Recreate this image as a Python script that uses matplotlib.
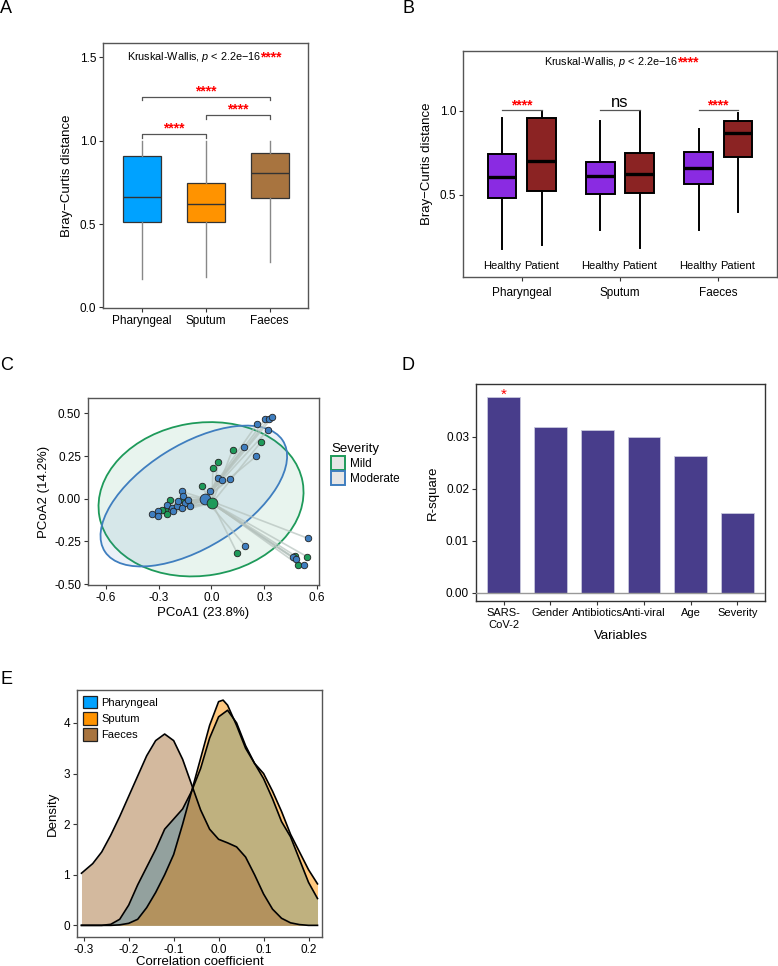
import matplotlib
matplotlib.use("Agg")
import matplotlib.pyplot as plt
from matplotlib.patches import Ellipse, Patch
import numpy as np

plt.rcParams['font.family'] = ['Liberation Sans', 'DejaVu Sans']
plt.rcParams['mathtext.fontset'] = 'custom'
plt.rcParams['mathtext.rm'] = 'Liberation Sans'
plt.rcParams['mathtext.it'] = 'Liberation Sans:italic'

# ---- data ----
sites = ["Pharyngeal", "Sputum", "Faeces"]
site_colors = ["#00A2FF", "#FF9300", "#A8743F"]

# panel A: Bray-Curtis by site
a_lo = [0.172, 0.182, 0.272]
a_q1 = [0.510, 0.510, 0.658]
a_med = [0.664, 0.618, 0.806]
a_q3 = [0.906, 0.746, 0.924]
a_hi = [0.995, 0.995, 0.995]

# panel B: healthy vs patient per site
b_groups = ["Healthy", "Patient"]
b_healthy_lo = [0.177, 0.288, 0.288]
b_healthy_q1 = [0.480, 0.506, 0.564]
b_healthy_med = [0.605, 0.613, 0.657]
b_healthy_q3 = [0.746, 0.696, 0.756]
b_healthy_hi = [0.958, 0.939, 0.895]
b_patient_lo = [0.200, 0.183, 0.399]
b_patient_q1 = [0.520, 0.510, 0.724]
b_patient_med = [0.700, 0.621, 0.869]
b_patient_q3 = [0.960, 0.748, 0.940]
b_patient_hi = [0.994, 0.994, 0.990]
b_sig = ["****", "ns", "****"]

# panel C: PCoA
mild_x = [0.280, 0.120, 0.038, 0.008, -0.056, 0.146, 0.542, 0.473, 0.492,
          -0.235, -0.263, -0.254, -0.160, -0.135, -0.282]
mild_y = [0.331, 0.288, 0.214, 0.183, 0.074, -0.318, -0.339, -0.333, -0.386,
          -0.006, -0.064, -0.088, -0.006, -0.025, -0.064]
mod_x = [0.259, 0.306, 0.325, 0.345, 0.319, 0.186, 0.253, 0.039, 0.060, 0.105,
         -0.006, 0.548, 0.191, 0.465, 0.480, 0.525, -0.338, -0.304, -0.304,
         -0.254, -0.225, -0.197, -0.188, -0.169, -0.163, -0.150, -0.135,
         -0.122, -0.169, -0.216]
mod_y = [0.438, 0.466, 0.468, 0.476, 0.400, 0.302, 0.248, 0.119, 0.109, 0.115,
         0.043, -0.232, -0.275, -0.343, -0.355, -0.390, -0.088, -0.074, -0.100,
         -0.035, -0.055, -0.045, -0.016, 0.043, 0.018, -0.025, -0.006,
         -0.045, -0.055, -0.074]
mild_centroid = (0.004, -0.025)
mod_centroid = (-0.038, 0.000)
# ellipse centre x, centre y, width, height, angle
mild_ell = (-0.059, -0.003, 1.17, 0.894, 10)
mod_ell = (-0.100, 0.016, 1.20, 0.600, 33)

# panel D: adonis R-square
variables = ["SARS-\nCoV-2", "Gender", "Antibiotics", "Anti-viral", "Age", "Severity"]
r_square = [0.0376, 0.0319, 0.0313, 0.0299, 0.0263, 0.0153]

# panel E: density of correlation coefficients
faeces_x = [-0.305, -0.28, -0.26, -0.24, -0.22, -0.20, -0.18, -0.16, -0.14, -0.12,
            -0.10, -0.08, -0.06, -0.04, -0.02, 0.0, 0.02, 0.04, 0.06, 0.08, 0.10,
            0.12, 0.14, 0.16, 0.18, 0.20, 0.22]
faeces_d = [1.03, 1.22, 1.45, 1.78, 2.15, 2.55, 2.95, 3.35, 3.65, 3.78,
            3.65, 3.28, 2.78, 2.28, 1.90, 1.70, 1.63, 1.55, 1.35, 1.00, 0.62,
            0.32, 0.14, 0.05, 0.015, 0.0, 0.0]
phar_x = [-0.305, -0.26, -0.24, -0.22, -0.20, -0.18, -0.16, -0.14, -0.12, -0.10,
          -0.08, -0.06, -0.04, -0.02, 0.0, 0.02, 0.04, 0.06, 0.08, 0.10, 0.12,
          0.14, 0.16, 0.18, 0.20, 0.22]
phar_d = [0.0, 0.0, 0.02, 0.12, 0.40, 0.80, 1.15, 1.50, 1.90, 2.10,
          2.30, 2.65, 3.10, 3.70, 4.12, 4.25, 4.00, 3.55, 3.20, 2.90, 2.50,
          2.05, 1.75, 1.30, 0.85, 0.53]
sput_x = [-0.305, -0.24, -0.22, -0.20, -0.18, -0.16, -0.14, -0.12, -0.10, -0.08,
          -0.06, -0.04, -0.02, 0.0, 0.01, 0.02, 0.04, 0.06, 0.08, 0.10, 0.12,
          0.14, 0.16, 0.18, 0.20, 0.22]
sput_d = [0.0, 0.0, 0.01, 0.04, 0.12, 0.35, 0.65, 1.00, 1.40, 2.00,
          2.65, 3.30, 3.95, 4.42, 4.45, 4.35, 3.95, 3.50, 3.20, 3.00, 2.65,
          2.25, 1.80, 1.45, 1.10, 0.82]

W, H = 778, 966
fig = plt.figure(figsize=(W / 100, H / 100), dpi=100)

TICK = 8.5
LAB = 9.5


def add_ax(l, t, r, b):
    return fig.add_axes([l / W, 1 - b / H, (r - l) / W, (b - t) / H])


def style(ax, spine="#555555"):
    for s in ax.spines.values():
        s.set_color(spine)
        s.set_linewidth(1.0)
    ax.tick_params(length=3, width=0.8, color="#333333", labelsize=TICK, pad=2)


def kruskal(ax, x, y):
    # black label ending at x, red stars raised right after it
    ax.text(x, y, "Kruskal-Wallis, $p$ < 2.2e\u221216", fontsize=7.8, ha="right", va="center")
    ax.annotate("****", (x, y), xytext=(-1.5, -5.5), textcoords="offset points",
                color="red", fontsize=10, ha="left", va="bottom", fontweight="bold")


# panel letters
for letter, x, y in [("A", 0, 0), ("B", 402, 0), ("C", 0, 357), ("D", 401, 357), ("E", 0, 671)]:
    fig.text(x / W, 1 - y / H, letter, fontsize=13, ha="left", va="top")

# ---------------- A ----------------
ax = add_ax(103, 43, 308, 308)
stats = [dict(whislo=a_lo[i], q1=a_q1[i], med=a_med[i], q3=a_q3[i], whishi=a_hi[i], fliers=[])
         for i in range(3)]
bp = ax.bxp(stats, positions=[1, 2, 3], widths=0.6, patch_artist=True, showcaps=False,
            boxprops=dict(edgecolor="#333333", linewidth=0.9),
            whiskerprops=dict(color="#888888", linewidth=1.0),
            medianprops=dict(color="#333333", linewidth=1.0))
for patch, c in zip(bp["boxes"], site_colors):
    patch.set_facecolor(c)
ax.set_xlim(0.39, 3.6)
ax.set_ylim(-0.003, 1.584)
ax.set_yticks([0.0, 0.5, 1.0, 1.5])
ax.set_yticklabels(["0.0", "0.5", "1.0", "1.5"])
ax.set_xticks([1, 2, 3])
ax.set_xticklabels(sites)
ax.set_ylabel("Bray\u2212Curtis distance", fontsize=LAB, labelpad=5)
style(ax)
# brackets
for (x1, x2, yb, yl, ys) in [(1, 2, 1.042, 1.015, 1.032), (2, 3, 1.152, 1.126, 1.142), (1, 3, 1.262, 1.240, 1.252)]:
    ax.plot([x1, x1, x2, x2], [yl, yb, yb, yl], color="#555555", lw=0.9)
    ax.text((x1 + x2) / 2, ys, "****", color="red", fontsize=10, ha="center", va="bottom",
            fontweight="bold")
kruskal(ax, 2.874, 1.5)

# ---------------- B ----------------
ax = add_ax(463, 51, 777, 277)
pos = np.arange(1, 4)
h_stats = [dict(whislo=b_healthy_lo[i], q1=b_healthy_q1[i], med=b_healthy_med[i],
                q3=b_healthy_q3[i], whishi=b_healthy_hi[i], fliers=[]) for i in range(3)]
p_stats = [dict(whislo=b_patient_lo[i], q1=b_patient_q1[i], med=b_patient_med[i],
                q3=b_patient_q3[i], whishi=b_patient_hi[i], fliers=[]) for i in range(3)]
for st, off, col in [(h_stats, -0.2, "#8A2BE2"), (p_stats, 0.2, "#8B2323")]:
    bp = ax.bxp(st, positions=pos + off, widths=0.29, patch_artist=True, showcaps=False,
                boxprops=dict(edgecolor="black", linewidth=1.4, facecolor=col),
                whiskerprops=dict(color="black", linewidth=1.4),
                medianprops=dict(color="black", linewidth=2.4))
    for i in range(3):
        ax.text(pos[i] + off, 0.077, b_groups[0] if off < 0 else b_groups[1],
                fontsize=8, ha="center", va="center")
for i in range(3):
    ax.plot([pos[i] - 0.2, pos[i] + 0.2], [1.008, 1.008], color="#555555", lw=0.9)
    if b_sig[i] == "ns":
        ax.text(pos[i], 1.005, "ns", fontsize=12, ha="center", va="bottom")
    else:
        ax.text(pos[i], 0.99, b_sig[i], color="red", fontsize=10, ha="center", va="bottom",
                fontweight="bold")
kruskal(ax, 2.6, 1.29)
ax.set_xlim(0.4, 3.6)
ax.set_ylim(0.01, 1.357)
ax.set_yticks([0.5, 1.0])
ax.set_yticklabels(["0.5", "1.0"])
ax.set_xticks(pos)
ax.set_xticklabels(sites)
ax.set_ylabel("Bray\u2212Curtis distance", fontsize=LAB, labelpad=5)
style(ax)
ax.tick_params(axis="x", pad=4)

# ---------------- C ----------------
ax = add_ax(88, 398, 319, 585)
green, blue = "#1E9A5A", "#3F7EBF"
for (cx, cy, w, h, ang), col in [(mild_ell, green), (mod_ell, blue)]:
    ax.add_patch(Ellipse((cx, cy), w, h, angle=ang, facecolor=col, alpha=0.1, edgecolor="none"))
    ax.add_patch(Ellipse((cx, cy), w, h, angle=ang, facecolor="none", edgecolor=col, lw=1.3))
for xs, ys, cen in [(mild_x, mild_y, mild_centroid), (mod_x, mod_y, mod_centroid)]:
    for x, y in zip(xs, ys):
        ax.plot([cen[0], x], [cen[1], y], color="#b5c2bd", lw=1.2, alpha=0.7, zorder=2)
ax.scatter(mild_x, mild_y, s=22, c=green, edgecolors="#222222", linewidths=0.6, zorder=3)
ax.scatter(mod_x, mod_y, s=22, c=blue, edgecolors="#222222", linewidths=0.6, zorder=3)
ax.scatter([mod_centroid[0]], [mod_centroid[1]], s=60, c=blue, edgecolors="#222222", linewidths=0.6, zorder=4)
ax.scatter([mild_centroid[0]], [mild_centroid[1]], s=60, c=green, edgecolors="#222222", linewidths=0.6, zorder=4)
ax.set_xlim(-0.70, 0.61)
ax.set_ylim(-0.505, 0.59)
ax.set_xticks([-0.6, -0.3, 0.0, 0.3, 0.6])
ax.set_xticklabels(["-0.6", "-0.3", "0.0", "0.3", "0.6"])
ax.set_yticks([-0.5, -0.25, 0.0, 0.25, 0.5])
ax.set_yticklabels(["-0.50", "-0.25", "0.00", "0.25", "0.50"])
ax.set_xlabel("PCoA1 (23.8%)", fontsize=LAB, labelpad=2)
ax.set_ylabel("PCoA2 (14.2%)", fontsize=LAB, labelpad=3)
style(ax)
handles = [Patch(facecolor="#e6e6e6", edgecolor=green, lw=1.4, label="Mild"),
           Patch(facecolor="#e6e6e6", edgecolor=blue, lw=1.4, label="Moderate")]
leg = fig.legend(handles=handles, title="Severity", loc="upper left",
                 bbox_to_anchor=(323 / W, 1 - 435 / H), frameon=False, fontsize=8.5,
                 title_fontsize=9.5, handlelength=1.2, handleheight=1.4,
                 handletextpad=0.4, labelspacing=0.1, borderpad=0.2)
leg._legend_box.align = "left"

# ---------------- D ----------------
ax = add_ax(476, 384, 765, 601)
xd = np.arange(len(variables))
ax.bar(xd, r_square, width=0.7, color="#483D8B", edgecolor="#c8c8dc", linewidth=0.6, zorder=2)
ax.axhline(0, color="#999999", lw=1.0, zorder=3)
ax.text(xd[0], r_square[0] + 0.0004, "*", color="red", fontsize=11, ha="center", va="center")
ax.set_xlim(-0.593, 5.59)
ax.set_ylim(-0.0016, 0.0401)
ax.set_yticks([0.0, 0.01, 0.02, 0.03])
ax.set_yticklabels(["0.00", "0.01", "0.02", "0.03"])
ax.set_xticks(xd)
ax.set_xticklabels(variables)
ax.set_xlabel("Variables", fontsize=LAB, labelpad=0)
ax.set_ylabel("R-square", fontsize=LAB, labelpad=5)
style(ax, spine="#333333")
ax.tick_params(axis="x", labelsize=8)

# ---------------- E ----------------
ax = add_ax(77, 690, 322, 937)
for xs, ds, col in [(phar_x, phar_d, site_colors[0]), (sput_x, sput_d, site_colors[1]),
                    (faeces_x, faeces_d, site_colors[2])]:
    ax.fill_between(xs, 0, ds, color=col, alpha=0.5, linewidth=0)
    ax.plot(xs, ds, color="black", lw=1.2)
ax.set_xlim(-0.315, 0.230)
ax.set_ylim(-0.23, 4.65)
ax.set_xticks([-0.3, -0.2, -0.1, 0.0, 0.1, 0.2])
ax.set_xticklabels(["-0.3", "-0.2", "-0.1", "0.0", "0.1", "0.2"])
ax.set_yticks([0, 1, 2, 3, 4])
ax.set_xlabel("Correlation coefficient", fontsize=LAB, labelpad=0)
ax.set_ylabel("Density", fontsize=LAB, labelpad=3)
style(ax)
handles = [Patch(facecolor=c, edgecolor="#222222", lw=0.9, label=s) for s, c in zip(sites, site_colors)]
ax.legend(handles=handles, loc="upper left", frameon=False, fontsize=8,
          handlelength=1.3, handleheight=1.4, handletextpad=0.4, labelspacing=0.3,
          borderaxespad=0.3, borderpad=0.2)

fig.savefig("out.png", dpi=100)
